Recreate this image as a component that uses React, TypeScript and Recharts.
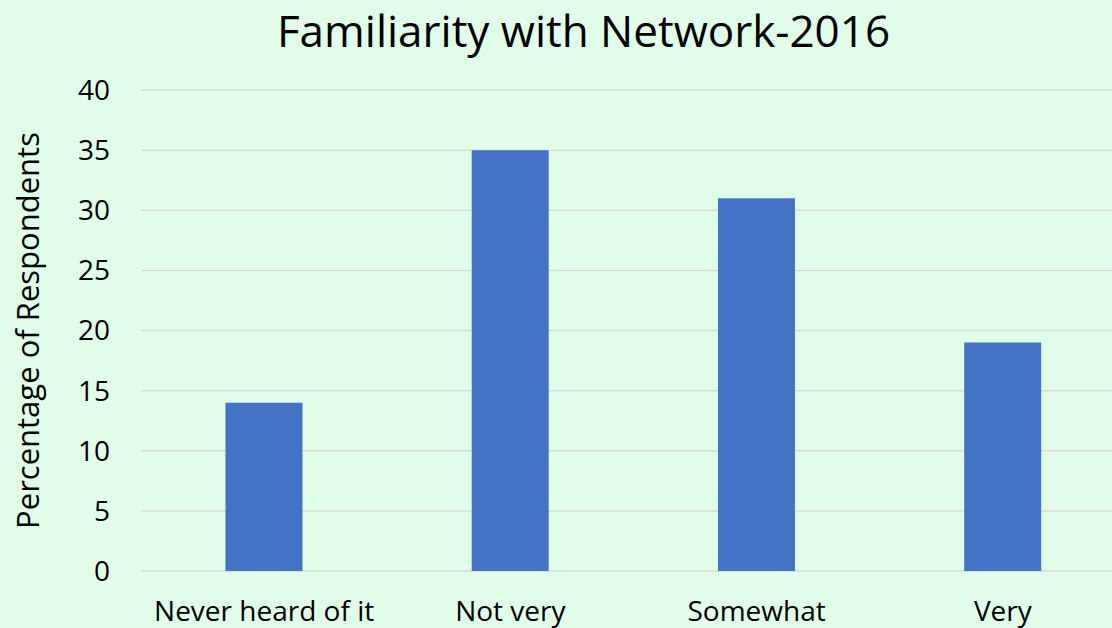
import { BarChart, Bar, XAxis, YAxis, CartesianGrid, Label } from 'recharts'

const categories = ['Never heard of it', 'Not very', 'Somewhat', 'Very']
const percentages = [14, 35, 31, 19]
const yTicks = [0, 5, 10, 15, 20, 25, 30, 35, 40]

const data = categories.map((name, i) => ({ name, value: percentages[i] }))

const font = '"Open Sans", sans-serif'

export default function App() {
	return (
		<div
			style={{
				position: 'fixed',
				top: 0,
				left: 0,
				width: 1112,
				height: 628,
				overflow: 'hidden',
				background: '#e1fde9',
				fontFamily: font
			}}
		>
			<div
				style={{
					position: 'absolute',
					top: 0,
					left: 0,
					width: 1167,
					textAlign: 'center',
					fontSize: 44,
					lineHeight: '60px',
					color: '#000'
				}}
			>
				Familiarity with Network-2016
			</div>
			<BarChart
				width={1112}
				height={628}
				data={data}
				margin={{ top: 90, right: -14, bottom: 0, left: 21 }}
				barCategoryGap="34.3%"
				style={{ overflow: 'hidden' }}
			>
				<CartesianGrid vertical={false} stroke="#d9d9d9" strokeWidth={1.5} />
				<XAxis
					dataKey="name"
					height={57}
					axisLine={false}
					tickLine={false}
					tickSize={0}
					tickMargin={30}
					interval={0}
					tick={{ fill: '#000', fontSize: 28, fontFamily: font }}
				/>
				<YAxis
					width={120}
					domain={[0, 40]}
					ticks={yTicks}
					axisLine={false}
					tickLine={false}
					tickSize={0}
					tickMargin={31}
					tick={{ fill: '#000', fontSize: 28, fontFamily: font }}
				>
					<Label
						value="Percentage of Respondents"
						angle={-90}
						position="insideLeft"
						offset={7}
						style={{ fill: '#000', fontSize: 31, fontFamily: font, textAnchor: 'middle' }}
					/>
				</YAxis>
				<Bar dataKey="value" fill="#4472c4" isAnimationActive={false} />
			</BarChart>
		</div>
	)
}
